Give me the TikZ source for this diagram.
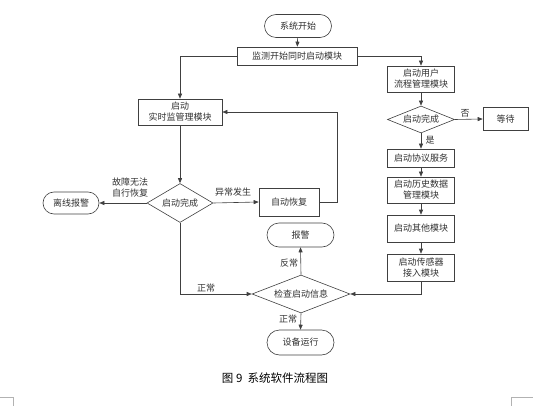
\documentclass[tikz,border=0pt]{standalone}
\usepackage{fontspec}
\setmainfont{Noto Sans CJK SC}
\newfontfamily\capfont{Noto Sans CJK SC}
\usetikzlibrary{arrows.meta,shapes.geometric,shapes.misc}
\definecolor{ln}{HTML}{404040}
\definecolor{tx}{HTML}{303030}
\tikzset{
  every node/.style={font=\fontsize{9}{11}\selectfont, text=tx, align=center, inner sep=0pt},
  box/.style={draw=ln, line width=0.6pt, rectangle, minimum width=67pt},
  term/.style={draw=ln, line width=0.6pt, rounded rectangle, minimum width=67pt, minimum height=23pt},
  dia/.style={draw=ln, line width=0.6pt, diamond},
  conn/.style={draw=ln, line width=0.6pt, -{Triangle[length=5pt,width=4pt]}},
  lbl/.style={font=\fontsize{9}{11}\selectfont},
}
\begin{document}
\begin{tikzpicture}[x=1pt,y=-1pt]
\useasboundingbox (0,0) rectangle (559,406);
% nodes
\node[term] (start) at (298,26) {系统开始};
\node[box, minimum width=120pt, minimum height=18pt] (mon) at (297,56) {监测开始同时启动模块};
\node[box, minimum width=84pt, minimum height=26pt] (rt) at (180,112) {启动\\实时监管理模块};
\node[dia, minimum width=66pt, minimum height=39pt, aspect=1.7] (d1) at (180,203) {启动完成};
\node[term, minimum width=56pt, minimum height=22pt] (off) at (71,203) {离线报警};
\node[box, minimum width=60pt, minimum height=28pt] (auto) at (289,202) {自动恢复};
\node[term, minimum width=67pt, minimum height=24pt] (alarm) at (300.5,235) {报警};
\node[dia, minimum width=98pt, minimum height=38pt, aspect=2.6] (d2) at (301,294) {检查启动信息};
\node[term, minimum width=67pt, minimum height=25pt] (run) at (300.5,342.5) {设备运行};
\node[box, minimum height=26pt] (user) at (421,79) {启动用户\\流程管理模块};
\node[dia, minimum width=67pt, minimum height=27pt, aspect=2.5] (d3) at (421,119.5) {启动完成};
\node[box, minimum width=45pt, minimum height=23pt] (wait) at (505.5,119) {等待};
\node[box, minimum height=18pt] (proto) at (421,158) {启动协议服务};
\node[box, minimum height=26pt] (hist) at (421,190) {启动历史数据\\管理模块};
\node[box, minimum height=27pt] (other) at (421,228.5) {启动其他模块};
\node[box, minimum height=27pt] (sensor) at (421,267.5) {启动传感器\\接入模块};
% connectors
\draw[conn] (start) -- (mon);
\draw[conn] (mon.west) -| (rt.north);
\draw[conn] (mon.east) -| (user.north);
\draw[conn] (rt) -- (d1);
\draw[conn] (d1.west) -- (off.east);
\draw[conn] (d1.east) -- (auto.west);
\draw[conn] (auto.east) -- ++(18,0) |- (rt.east);
\draw[conn] (d1.south) |- (d2.west);
\draw[conn] (d2.north) -- (alarm.south);
\draw[conn] (d2.south) -- (run.north);
\draw[conn] (user) -- (d3);
\draw[conn] (d3.east) -- (wait.west);
\draw[conn] (d3.south) -- (proto.north);
\draw[conn] (proto) -- (hist);
\draw[conn] (hist) -- (other);
\draw[conn] (other) -- (sensor);
\draw[conn] (sensor.south) |- (d2.east);
% labels
\node[lbl] (l1) at (130,188) {故障无法\\自行恢复};
\node[lbl] (l2) at (233,192) {异常发生};
\node[lbl] (l3) at (206,288) {正常};
\node[lbl] (l4) at (289,263) {反常};
\node[lbl] (l5) at (288,319) {正常};
\node[lbl] (l6) at (465,113) {否};
\node[lbl] (l7) at (430,140) {是};
% caption
\node[font=\capfont\fontsize{11.5}{13}\selectfont, text=black] (cap) at (275,378) {图 9\ \ 系统软件流程图};
% corner marks
\draw[gray!60, line width=0.6pt] (0,397) -- (13,397) -- (13,406);
\draw[gray!60, line width=0.6pt] (511,406) -- (511,397) -- (533,397);
\end{tikzpicture}
\end{document}
